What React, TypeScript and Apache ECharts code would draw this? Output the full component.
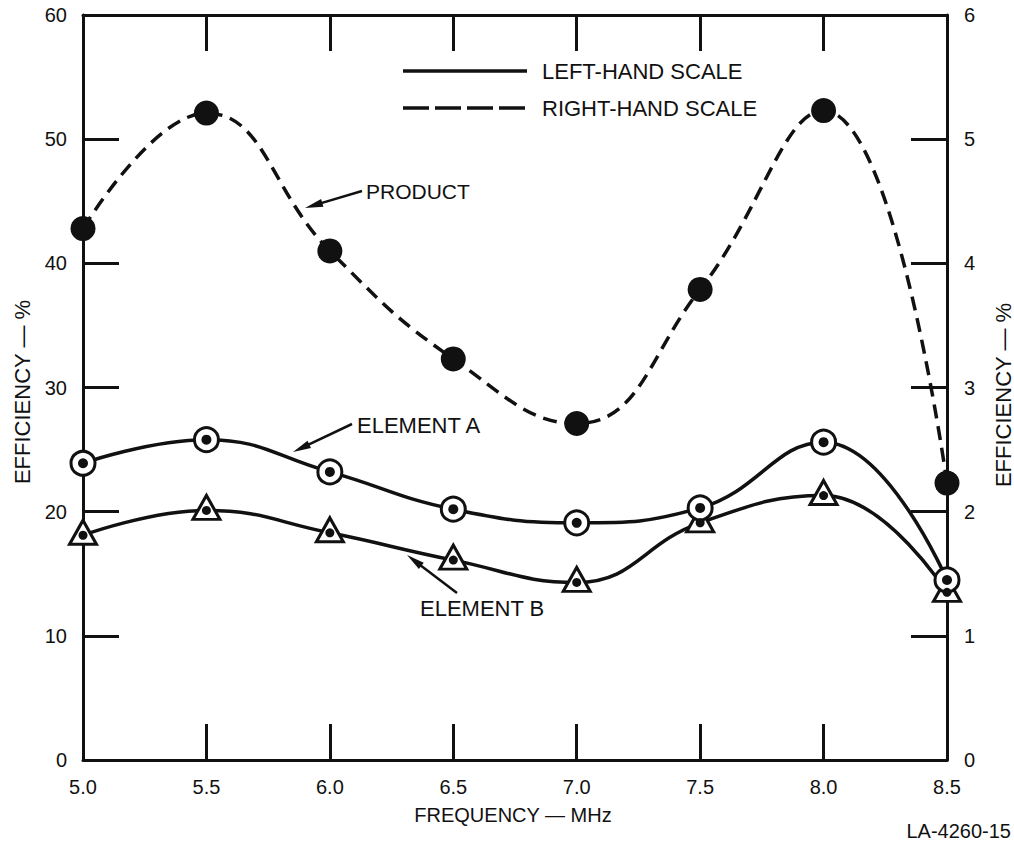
import React, { useEffect, useRef } from "react";
import * as echarts from "echarts";

// Frequency points (MHz)
const FREQ = [5.0, 5.5, 6.0, 6.5, 7.0, 7.5, 8.0, 8.5];
// Product efficiency, % (right-hand scale)
const PRODUCT = [4.28, 5.21, 4.1, 3.23, 2.71, 3.79, 5.23, 2.23];
// Element A efficiency, % (left-hand scale)
const ELEMENT_A = [23.9, 25.8, 23.2, 20.2, 19.1, 20.3, 25.6, 14.5];
// Element B efficiency, % (left-hand scale)
const ELEMENT_B = [18.1, 20.1, 18.3, 16.1, 14.3, 19.1, 21.3, 13.5];

const INK = "#111";
const FONT = '"Liberation Sans", Arial, Helvetica, sans-serif';

function pairs(ys: number[]) {
  return FREQ.map((x, i) => [x, ys[i]]);
}

function arrow(x1: number, y1: number, x2: number, y2: number) {
  const a = Math.atan2(y2 - y1, x2 - x1);
  const len = 18;
  const half = 4;
  const bx = x2 - len * Math.cos(a);
  const by = y2 - len * Math.sin(a);
  const px = -Math.sin(a);
  const py = Math.cos(a);
  return [
    {
      type: "line",
      shape: { x1, y1, x2: bx + 2 * Math.cos(a), y2: by + 2 * Math.sin(a) },
      style: { stroke: INK, lineWidth: 2.5 },
    },
    {
      type: "polygon",
      shape: {
        points: [
          [x2, y2],
          [bx + px * half, by + py * half],
          [bx - px * half, by - py * half],
        ],
      },
      style: { fill: INK },
    },
  ];
}

function label(text: string, x: number, y: number, size = 20, align = "left", extra: any = {}) {
  return {
    type: "text",
    x,
    y,
    ...extra,
    style: {
      text,
      fill: INK,
      fontSize: size,
      fontFamily: FONT,
      align,
      verticalAlign: "middle",
    },
  };
}

export default function App() {
  const ref = useRef<HTMLDivElement>(null);

  useEffect(() => {
    if (!ref.current) return;
    const chart = echarts.init(ref.current, undefined, { renderer: "svg" });

    const axisLine = { show: true, onZero: false, lineStyle: { color: INK, width: 3 } };
    const axisTick = { show: true, inside: true, length: 36, lineStyle: { color: INK, width: 3 } };
    const tickText = { color: INK, fontSize: 20, fontFamily: FONT };

    chart.setOption({
      animation: false,
      backgroundColor: "#fff",
      grid: { left: 83, right: 67, top: 15, bottom: 81, containLabel: false },
      xAxis: [
        {
          type: "value",
          min: 5,
          max: 8.5,
          interval: 0.5,
          position: "bottom",
          axisLine,
          axisTick,
          splitLine: { show: false },
          axisLabel: { ...tickText, margin: 17, formatter: (v: number) => v.toFixed(1) },
        },
        {
          type: "value",
          min: 5,
          max: 8.5,
          interval: 0.5,
          position: "top",
          axisLine,
          axisTick,
          splitLine: { show: false },
          axisLabel: { show: false },
        },
      ],
      yAxis: [
        {
          type: "value",
          min: 0,
          max: 60,
          interval: 10,
          position: "left",
          axisLine,
          axisTick,
          splitLine: { show: false },
          axisLabel: { ...tickText, margin: 16 },
        },
        {
          type: "value",
          min: 0,
          max: 6,
          interval: 1,
          position: "right",
          axisLine,
          axisTick,
          splitLine: { show: false },
          axisLabel: { ...tickText, margin: 17 },
        },
      ],
      series: [
        {
          name: "Product",
          type: "line",
          yAxisIndex: 1,
          data: pairs(PRODUCT),
          smooth: 0.45,
          symbol: "circle",
          symbolSize: 25,
          lineStyle: { color: INK, width: 3.5, type: [14, 8] },
          itemStyle: { color: INK, opacity: 1 },
          z: 3,
        },
        {
          name: "Element B",
          type: "line",
          yAxisIndex: 0,
          data: pairs(ELEMENT_B),
          smooth: 0.45,
          symbol: "triangle",
          symbolSize: [27, 24],
          symbolOffset: [0, -3],
          lineStyle: { color: INK, width: 3.5 },
          itemStyle: { color: "#fff", borderColor: INK, borderWidth: 3, opacity: 1 },
          z: 3,
        },
        {
          name: "Element A",
          type: "line",
          yAxisIndex: 0,
          data: pairs(ELEMENT_A),
          smooth: 0.45,
          symbol: "circle",
          symbolSize: 24,
          lineStyle: { color: INK, width: 3.5 },
          itemStyle: { color: "#fff", borderColor: INK, borderWidth: 3, opacity: 1 },
          z: 4,
        },
        {
          name: "Element B dot",
          type: "scatter",
          yAxisIndex: 0,
          data: pairs(ELEMENT_B),
          symbol: "circle",
          symbolSize: 9,
          itemStyle: { color: INK, opacity: 1 },
          z: 5,
        },
        {
          name: "Element A dot",
          type: "scatter",
          yAxisIndex: 0,
          data: pairs(ELEMENT_A),
          symbol: "circle",
          symbolSize: 10,
          itemStyle: { color: INK, opacity: 1 },
          z: 6,
        },
      ],
      graphic: [
        // key
        {
          type: "line",
          shape: { x1: 403, y1: 71, x2: 527, y2: 71 },
          style: { stroke: INK, lineWidth: 3.5 },
        },
        {
          type: "line",
          shape: { x1: 403, y1: 108, x2: 527, y2: 108 },
          style: { stroke: INK, lineWidth: 3.5, lineDash: [26, 6] },
        },
        label("LEFT-HAND SCALE", 542, 71, 22),
        label("RIGHT-HAND SCALE", 542, 108, 22),
        // curve callouts
        label("PRODUCT", 366, 191, 21),
        ...arrow(362, 191, 305, 208),
        label("ELEMENT A", 357, 425, 22),
        ...arrow(352, 424, 293, 452),
        label("ELEMENT B", 420, 608, 22),
        ...arrow(457, 593, 407, 555),
        // axis titles
        label("FREQUENCY — MHz", 513, 815, 20, "center"),
        label("EFFICIENCY — %", 22, 392, 22, "center", { rotation: Math.PI / 2 }),
        label("EFFICIENCY — %", 1003, 395, 22, "center", { rotation: Math.PI / 2 }),
        label("LA-4260-15", 1011, 831, 20, "right"),
      ],
    });

    return () => chart.dispose();
  }, []);

  return (
    <div
      ref={ref}
      style={{ position: "fixed", left: 0, top: 0, width: 1014, height: 841, background: "#fff" }}
    />
  );
}
